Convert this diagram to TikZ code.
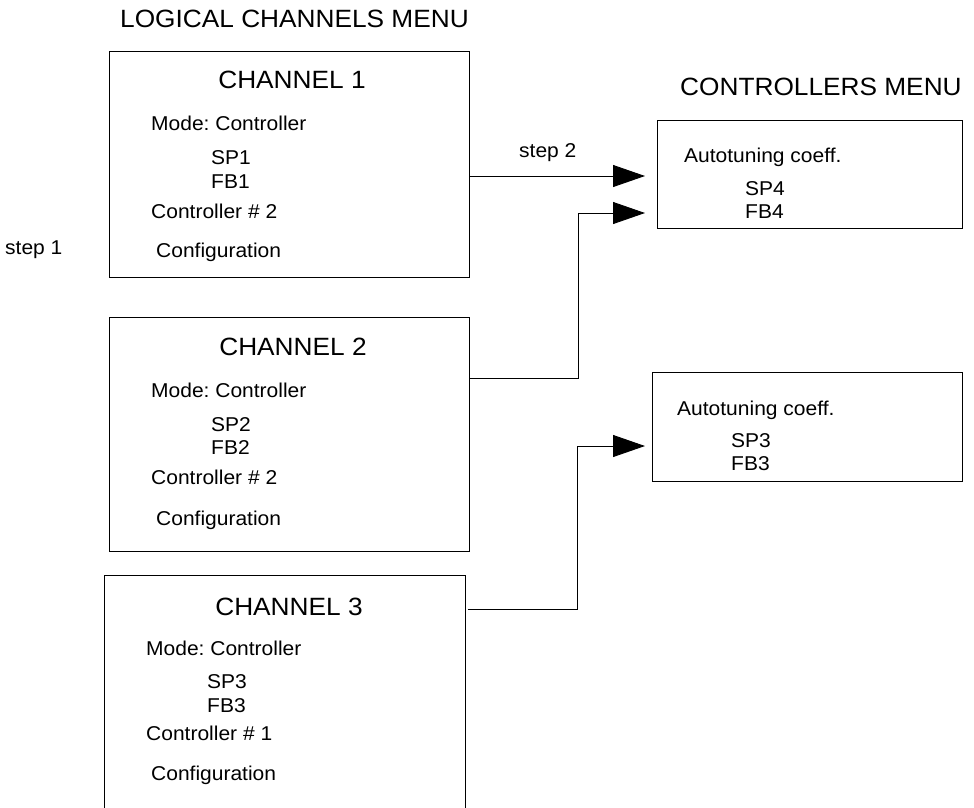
\documentclass[tikz,border=0pt]{standalone}
\usepackage{fontspec}
\setmainfont{Liberation Sans}[FakeStretch=1.05]
\usetikzlibrary{arrows.meta}
\frenchspacing
\begin{document}
\begin{tikzpicture}[x=1pt,y=-1pt,
  box/.style={draw=black, line width=0.9pt, rectangle, inner sep=0pt, anchor=north west},
  txt/.style={inner sep=0pt, font=\fontsize{20}{24}\selectfont, anchor=base west},
  ttl/.style={inner sep=0pt, font=\fontsize{25}{30}\selectfont},
  conn/.style={draw=black, line width=0.9pt},
  arr/.style={conn, -{Triangle[length=32pt,width=22pt]}}]
\useasboundingbox (0,0) rectangle (974,807);

% titles
\node[ttl, anchor=base west] (tl) at (120,27) {LOGICAL CHANNELS MENU};
\node[ttl, anchor=base west] (tr) at (680,95) {CONTROLLERS MENU};
\node[txt] (s1) at (5,254) {step 1};
\node[txt] (s2) at (519,157) {step 2};

% channel boxes
\node[box, minimum width=360pt, minimum height=226pt] (ch1) at (109,51) {};
\node[box, minimum width=360pt, minimum height=234pt] (ch2) at (109,317) {};
\node[box, minimum width=361pt, minimum height=236pt] (ch3) at (104,575) {};

% channel 1 texts
\node[ttl, anchor=base] (ch1t) at (292,88) {CHANNEL 1};
\node[txt] (ch1m) at (151,130) {Mode: Controller};
\node[txt] (ch1s) at (211,164) {SP1};
\node[txt] (ch1f) at (211,188) {FB1};
\node[txt] (ch1c) at (151,218) {Controller \# 2};
\node[txt] (ch1g) at (156,257) {Configuration};

% channel 2 texts
\node[ttl, anchor=base] (ch2t) at (293,355) {CHANNEL 2};
\node[txt] (ch2m) at (151,397) {Mode: Controller};
\node[txt] (ch2s) at (211,431) {SP2};
\node[txt] (ch2f) at (211,454) {FB2};
\node[txt] (ch2c) at (151,484) {Controller \# 2};
\node[txt] (ch2g) at (156,525) {Configuration};

% channel 3 texts
\node[ttl, anchor=base] (ch3t) at (289,615) {CHANNEL 3};
\node[txt] (ch3m) at (146,655) {Mode: Controller};
\node[txt] (ch3s) at (207,688) {SP3};
\node[txt] (ch3f) at (207,712) {FB3};
\node[txt] (ch3c) at (146,740) {Controller \# 1};
\node[txt] (ch3g) at (151,780) {Configuration};

% controller boxes
\node[box, minimum width=305pt, minimum height=108pt] (c1) at (657,120) {};
\node[box, minimum width=310pt, minimum height=109pt] (c2) at (652,372) {};

\node[txt] (c1a) at (684,162) {Autotuning coeff.};
\node[txt] (c1s) at (745,195) {SP4};
\node[txt] (c1f) at (745,218) {FB4};

\node[txt] (c2a) at (677,415) {Autotuning coeff.};
\node[txt] (c2s) at (731,447) {SP3};
\node[txt] (c2f) at (731,470) {FB3};

% connectors
\draw[arr, shorten >=12pt] (ch1.east |- 0,176) -- (c1.west |- 0,176);
\draw[arr, shorten >=12pt] (ch2.east |- 0,378) -- (578,378) -- (578,213) -- (c1.west |- 0,213);
\draw[arr, shorten >=7pt] ([xshift=2pt]ch3.east |- 0,609) -- (577,609) -- (577,446) -- (c2.west |- 0,446);
\end{tikzpicture}
\end{document}
